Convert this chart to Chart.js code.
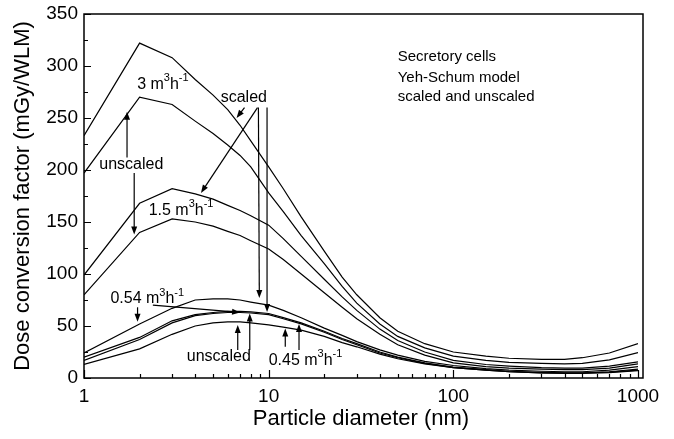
<!doctype html>
<html lang="en">
<head>
    <meta charset="utf-8">
    <title>Dose conversion factor - secretory cells</title>
    <script src="https://cdn.jsdelivr.net/npm/chart.js@4/dist/chart.umd.min.js"></script>
    <style>
        html, body { margin: 0; padding: 0; background: #fff; }
        #wrap { width: 674px; height: 439px; }
    </style>
</head>
<body>
<div id="wrap"><canvas id="chart1" width="674" height="439"></canvas></div>
<script>
    // particle diameters (nm)
    const diam = [1, 2, 3, 4, 5, 6, 7, 8, 10, 12, 15, 20, 25, 30, 40, 50, 70, 100, 150, 200, 300, 400, 500, 700, 1000];

    // 3 m3/h
    const scaled3   = [233, 322, 308, 287, 272, 258, 243, 228, 203, 182, 155, 122, 97, 80, 58, 45, 33, 25, 21, 19, 18, 18, 19.5, 24, 33];
    const unscaled3 = [197, 270, 263, 247, 235, 224, 214, 203, 178, 160, 137, 110, 88, 72, 52, 40, 29, 21, 17, 15, 14, 13.5, 14, 17.5, 24.5];
    // 1.5 m3/h
    const scaled15   = [99, 168, 182, 177, 172, 166, 161, 156, 147, 134, 117, 95, 78, 65, 47, 36, 25, 17, 13, 11.5, 10, 9.5, 9.5, 11.5, 15.5];
    const unscaled15 = [80, 140, 153, 150, 146, 141, 137, 132, 124, 114, 100, 82, 68, 57, 42, 32, 22, 14.5, 11, 9.5, 8.5, 8, 8, 9.5, 13.5];
    // 0.54 m3/h
    const scaled054   = [24, 52, 67, 75, 76, 76, 75, 73, 70, 65, 58, 48, 41, 35, 27, 22, 16, 12, 9, 7.5, 6.5, 6, 6, 7.5, 11];
    const unscaled054 = [20, 39, 55, 61, 63, 64, 64, 63.5, 62, 58, 53, 45, 38, 33, 25, 20, 14.5, 10.5, 8, 6.5, 5.5, 5, 5, 6, 8.5];
    // 0.45 m3/h
    const scaled045   = [17, 37, 53, 60, 62, 63, 63, 62.5, 61, 57, 52, 44, 37, 32, 24, 19.5, 14, 10, 7.5, 6, 5, 4.8, 4.8, 5.6, 7.5];
    const unscaled045 = [13, 28, 42, 50, 53, 54, 54, 53, 51, 49, 46, 40, 34, 30, 23, 18.5, 13.5, 10, 7.5, 6, 5, 4.5, 4.5, 5.2, 7];

    const series = [scaled3, unscaled3, scaled15, unscaled15, scaled054, unscaled054, scaled045, unscaled045];

    // axis ticks
    const xLabels = [1, 10, 100, 1000];
    const yMax = 350, yStep = 50;

    const FONT = '"Liberation Sans", Arial, Helvetica, sans-serif';

    // annotation texts, placed in data coordinates [x nm, y]
    const notes = [
        {x: 1.94, y: 282, parts: [['3 m'], ['3', 1], ['h'], ['-1', 1]]},
        {x: 5.5, y: 270, parts: [['scaled']]},
        {x: 1.21, y: 205, parts: [['unscaled']]},
        {x: 2.24, y: 161, parts: [['1.5 m'], ['3', 1], ['h'], ['-1', 1]]},
        {x: 1.39, y: 76, parts: [['0.54 m'], ['3', 1], ['h'], ['-1', 1]]},
        {x: 3.6, y: 21, parts: [['unscaled']]},
        {x: 10, y: 17, parts: [['0.45 m'], ['3', 1], ['h'], ['-1', 1]]},
        {x: 50, y: 309, parts: [['Secretory cells']], small: 1},
        {x: 50, y: 289, parts: [['Yeh-Schum model']], small: 1},
        {x: 50, y: 270, parts: [['scaled and unscaled']], small: 1}
    ];
    // arrows [x0, y0, x1, y1], head at the second point
    const arrows = [
        [7.4, 260, 6.7, 250],
        [8.7, 260, 4.3, 178],
        [8.8, 260, 8.9, 77],
        [9.8, 260, 9.8, 63.5],
        [1.71, 212, 1.71, 256],
        [1.87, 197, 1.87, 138],
        [1.95, 68, 1.95, 54],
        [2.36, 70, 7.0, 63],
        [6.8, 27, 6.8, 51],
        [7.9, 27, 7.9, 62],
        [12.3, 30, 12.3, 47.5],
        [14.6, 27, 14.6, 52]
    ];

    const framePlugin = {
        id: 'frame',
        afterDatasetsDraw(chart) {
            const {ctx, chartArea: a, scales: {x, y}} = chart;
            ctx.save();
            ctx.strokeStyle = '#000';
            ctx.lineWidth = 1.5;
            ctx.strokeRect(a.left, a.top, a.right - a.left + 5, a.bottom - a.top);
            ctx.lineWidth = 1.2;
            ctx.beginPath();
            // y ticks, inward
            for (let v = 0; v <= yMax; v += yStep / 2) {
                const py = Math.round(y.getPixelForValue(v)) + 0.5;
                const len = v % yStep === 0 ? 7 : 4;
                ctx.moveTo(a.left, py);
                ctx.lineTo(a.left + len, py);
            }
            // x ticks, inward
            for (let d = 1; d <= 1000; d *= 10) {
                for (let m = 1; m <= (d === 1000 ? 1 : 9); m++) {
                    const px = Math.round(x.getPixelForValue(m * d)) + 0.5;
                    const len = m === 1 ? 8 : 4;
                    ctx.moveTo(px, a.bottom);
                    ctx.lineTo(px, a.bottom - len);
                }
            }
            ctx.stroke();
            ctx.restore();
        }
    };

    function drawParts(ctx, parts, px, py, size) {
        let cx = px;
        parts.forEach(([t, sup]) => {
            ctx.font = (sup ? Math.round(size * 0.68) : size) + 'px ' + FONT;
            ctx.fillText(t, cx, sup ? py - size * 0.4 : py);
            cx += ctx.measureText(t).width;
        });
    }

    const notesPlugin = {
        id: 'notes',
        afterDatasetsDraw(chart) {
            const {ctx, scales: {x, y}} = chart;
            ctx.save();
            ctx.fillStyle = '#000';
            ctx.strokeStyle = '#000';
            ctx.textBaseline = 'middle';
            notes.forEach(n => {
                drawParts(ctx, n.parts, x.getPixelForValue(n.x), y.getPixelForValue(n.y), n.small ? 15 : 16);
            });
            ctx.lineWidth = 1.2;
            arrows.forEach(([x0, y0, x1, y1]) => {
                const ax = x.getPixelForValue(x0), ay = y.getPixelForValue(y0);
                const bx = x.getPixelForValue(x1), by = y.getPixelForValue(y1);
                const ang = Math.atan2(by - ay, bx - ax);
                const hl = 8, hw = 3;
                ctx.beginPath();
                ctx.moveTo(ax, ay);
                ctx.lineTo(bx - Math.cos(ang) * hl * 0.8, by - Math.sin(ang) * hl * 0.8);
                ctx.stroke();
                ctx.beginPath();
                ctx.moveTo(bx, by);
                ctx.lineTo(bx - Math.cos(ang) * hl - Math.sin(ang) * hw, by - Math.sin(ang) * hl + Math.cos(ang) * hw);
                ctx.lineTo(bx - Math.cos(ang) * hl + Math.sin(ang) * hw, by - Math.sin(ang) * hl - Math.cos(ang) * hw);
                ctx.closePath();
                ctx.fill();
            });
            ctx.restore();
        }
    };

    new Chart(document.getElementById('chart1').getContext('2d'), {
        type: 'line',
        data: {
            datasets: series.map(s => ({
                data: diam.map((d, i) => ({x: d, y: s[i]})),
                borderColor: '#000',
                borderWidth: 1.2,
                pointRadius: 0,
                tension: 0,
                fill: false
            }))
        },
        options: {
            responsive: false,
            animation: false,
            layout: {padding: {left: 0, top: 14, right: 36, bottom: 0}},
            plugins: {
                legend: {display: false},
                tooltip: {enabled: false}
            },
            scales: {
                x: {
                    type: 'logarithmic',
                    min: 1,
                    max: 1000,
                    grid: {display: false, drawTicks: false},
                    border: {display: false},
                    afterBuildTicks: s => { s.ticks = xLabels.map(v => ({value: v})); },
                    afterFit: s => { s.height = 61; s.paddingLeft = 0; s.paddingRight = 0; },
                    ticks: {
                        color: '#000',
                        font: {family: FONT, size: 19},
                        padding: 7,
                        maxRotation: 0,
                        autoSkip: false,
                        callback: v => String(v)
                    },
                    title: {
                        display: true,
                        text: 'Particle diameter (nm)',
                        color: '#000',
                        font: {family: FONT, size: 22},
                        padding: {top: 0, bottom: 7}
                    }
                },
                y: {
                    min: 0,
                    max: yMax,
                    grid: {display: false, drawTicks: false},
                    border: {display: false},
                    afterFit: s => { s.width = 84; s.paddingTop = 0; s.paddingBottom = 0; },
                    ticks: {
                        stepSize: yStep,
                        color: '#000',
                        font: {family: FONT, size: 19},
                        padding: 6
                    },
                    title: {
                        display: true,
                        text: 'Dose conversion factor (mGy/WLM)',
                        color: '#000',
                        font: {family: FONT, size: 22},
                        padding: {top: 10, bottom: 0}
                    }
                }
            }
        },
        plugins: [framePlugin, notesPlugin]
    });
</script>
</body>
</html>
